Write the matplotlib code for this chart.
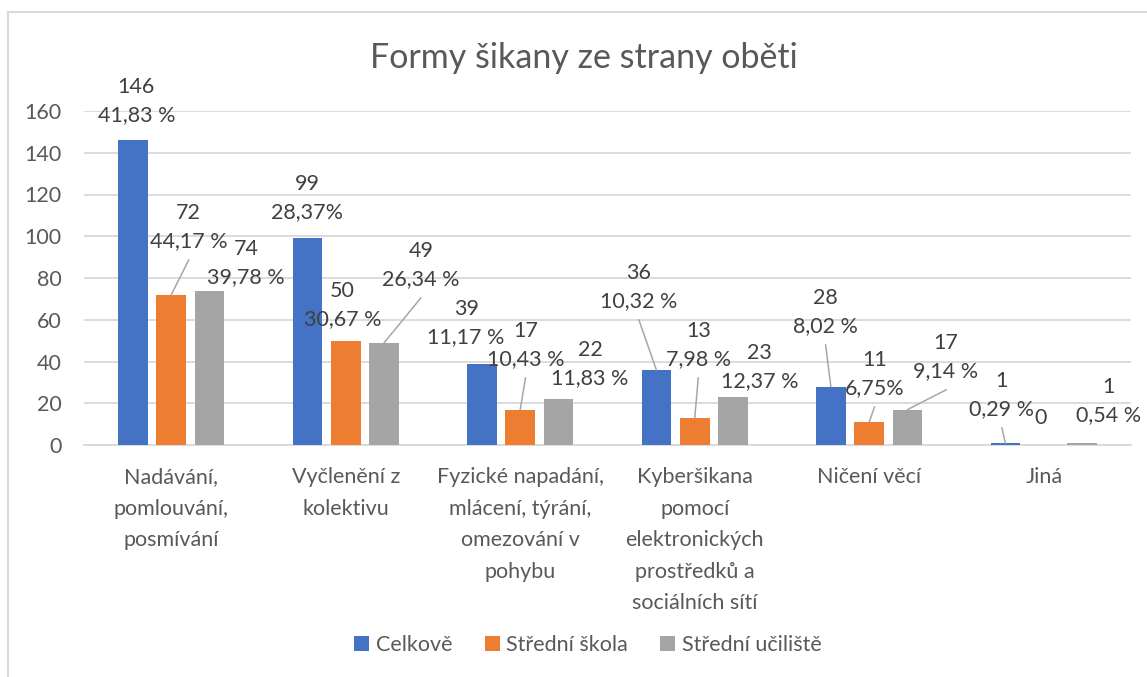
import numpy as np
import matplotlib
matplotlib.use("Agg")
import matplotlib.pyplot as plt
from matplotlib.patches import Rectangle

plt.rcParams['font.family'] = ['Lato', 'DejaVu Sans']

title = "Formy šikany ze strany oběti"
categories = ["Nadávání,\npomlouvání,\nposmívání",
              "Vyčlenění z\nkolektivu",
              "Fyzické napadání,\nmlácení, týrání,\nomezování v\npohybu",
              "Kyberšikana\npomocí\nelektronických\nprostředků a\nsociálních sítí",
              "Ničení věcí",
              "Jiná"]
series_names = ["Celkově", "Střední škola", "Střední učiliště"]
celkove = [146, 99, 39, 36, 28, 1]
stredni_skola = [72, 50, 17, 13, 11, 0]
stredni_uciliste = [74, 49, 22, 23, 17, 1]
pct_celkove = ["41,83 %", "28,37%", "11,17 %", "10,32 %", "8,02 %", "0,29 %"]
pct_skola = ["44,17 %", "30,67 %", "10,43 %", "7,98 %", "6,75%", ""]
pct_uciliste = ["39,78 %", "26,34 %", "11,83 %", "12,37 %", "9,14 %", "0,54 %"]

colors = ["#4472C4", "#ED7D31", "#A5A5A5"]
text_col = "#404040"
axis_col = "#595959"
grid_col = "#D9D9D9"

# label placement (x offset from group centre, y in data units, leader line?)
label_pos = [
    [(-0.20, 164.8, False), (0.10, 104.4, True), (0.43, 87.2, False)],
    [(-0.22, 118.3, False), (-0.02, 67.1, False), (0.43, 86.2, True)],
    [(-0.31, 58.4, False), (0.03, 47.9, True), (0.40, 38.8, False)],
    [(-0.32, 75.7, True), (0.02, 47.9, True), (0.37, 37.4, False)],
    [(-0.25, 63.7, True), (0.03, 34.0, True), (0.44, 42.2, True)],
    [(-0.24, 24.0, True), (-0.02, 12.9, False), (0.37, 21.1, False)],
]

fig = plt.figure(figsize=(11.47, 6.77), dpi=100)
fig.patches.append(Rectangle((8 / 1147, -0.01), 1.1, 1 - 12 / 677 + 0.01,
                             transform=fig.transFigure, fill=False,
                             edgecolor=grid_col, linewidth=1.5))
ax = fig.add_axes([84 / 1147, 1 - 445 / 677, (1131 - 84) / 1147, (445 - 111) / 677])

x = np.arange(len(categories))
width = 0.17
offsets = [-0.22, 0.0, 0.22]
all_vals = [celkove, stredni_skola, stredni_uciliste]
all_pct = [pct_celkove, pct_skola, pct_uciliste]

for s in range(3):
    ax.bar(x + offsets[s], all_vals[s], width, color=colors[s],
           label=series_names[s], zorder=3)

# each data label = value line + percent line, drawn as two texts
for g in range(len(categories)):
    for s in range(3):
        v = all_vals[s][g]
        p = all_pct[s][g]
        dx, ly, lead = label_pos[g][s]
        lx = g + dx
        if p:
            ax.annotate(f"{v}", (lx, ly), xytext=(0, 10.3), textcoords="offset points",
                        ha="center", va="center", fontsize=15.5, color=text_col,
                        annotation_clip=False, zorder=5)
            ax.annotate(p, (lx, ly), xytext=(0, -10.3), textcoords="offset points",
                        ha="center", va="center", fontsize=15.5, color=text_col,
                        annotation_clip=False, zorder=5)
        else:
            ax.text(lx, ly, f"{v}", ha="center", va="center", fontsize=15.5,
                    color=text_col, clip_on=False, zorder=5)
        if lead:
            ax.plot([lx, g + offsets[s]], [ly - 15.8, v], color="#A6A6A6",
                    linewidth=1.1, zorder=4, clip_on=False)

ax.set_xlim(-0.5, len(categories) - 0.5)
ax.set_ylim(0, 160)
ax.set_yticks(np.arange(0, 161, 20))
ax.yaxis.grid(True, color=grid_col, linewidth=1.3, zorder=0)
ax.set_axisbelow(True)
for sp in ["top", "right", "left"]:
    ax.spines[sp].set_visible(False)
ax.spines["bottom"].set_color(grid_col)
ax.spines["bottom"].set_linewidth(1.3)
ax.tick_params(axis="y", length=0, pad=16, labelsize=15.5, labelcolor=axis_col)
ax.tick_params(axis="x", length=0, pad=16, labelsize=15.5, labelcolor=axis_col)
ax.set_xticks(x)
ax.set_xticklabels(categories, linespacing=1.72, va="top")

fig.text(584 / 1147, 1 - 58 / 677, title, ha="center", va="center",
         fontsize=24.5, color=axis_col)

fig.legend(loc="center", bbox_to_anchor=(588 / 1147, 1 - 645 / 677), ncol=3,
           frameon=False, fontsize=15.5, labelcolor=axis_col, handlelength=0.7,
           handleheight=0.7, handletextpad=0.3, columnspacing=1.5)

fig.savefig("out.png", dpi=100, facecolor="white")
